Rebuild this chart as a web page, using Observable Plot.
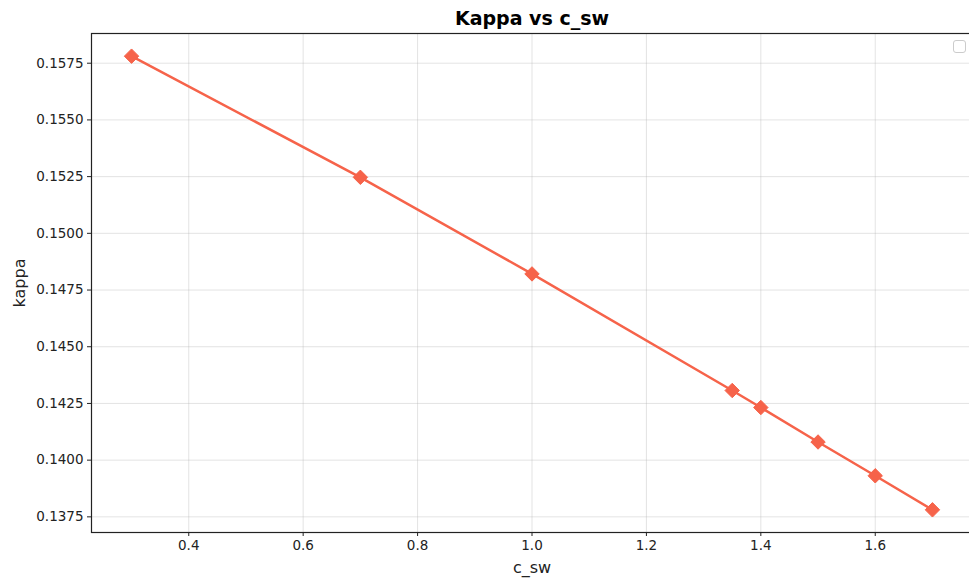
<!DOCTYPE html>
<html>
<head>
<meta charset="utf-8">
<script src="https://cdn.jsdelivr.net/npm/d3@7"></script>
<script src="https://cdn.jsdelivr.net/npm/@observablehq/plot@0.6"></script>
<style>
  html, body { margin: 0; padding: 0; background: #fff; }
  #wrap { position: relative; width: 969px; height: 578px; overflow: hidden; font-family: "DejaVu Sans", sans-serif; }
  #title { height: 28px; line-height: 36px; text-align: center; font-weight: bold; font-size: 19px; color: #000; padding-left: 95px; }
  #legend { position: absolute; left: 953px; top: 40px; width: 11px; height: 11px; border: 1px solid #ccc; border-radius: 3px; background: #fff; }
  #chart svg { max-width: none !important; display: block; }
</style>
</head>
<body>
<div id="wrap">
  <div id="title">Kappa vs c_sw</div>
  <div id="chart"></div>
  <div id="legend"></div>
</div>
<script>
const cSw = [0.3, 0.7, 1.0, 1.35, 1.4, 1.5, 1.6, 1.7];
const kappa = [0.15781, 0.15247, 0.14821, 0.14307, 0.14232, 0.14080, 0.13931, 0.13781];
const xTicks = [0.4, 0.6, 0.8, 1.0, 1.2, 1.4, 1.6];
const yTicks = [0.1375, 0.1400, 0.1425, 0.1450, 0.1475, 0.1500, 0.1525, 0.1550, 0.1575];

const data = cSw.map((x, i) => ({x, y: kappa[i]}));
const color = "#f6634a";

const chart = Plot.plot({
  width: 976,
  height: 550,
  marginLeft: 91,
  marginRight: 4,
  marginTop: 5,
  marginBottom: 46,
  style: {fontFamily: "DejaVu Sans, sans-serif", fontSize: "13px", color: "#222", background: "#fff", maxWidth: "none"},
  x: {domain: [0.23, 1.77]},
  y: {domain: [0.13681, 0.15881]},
  marks: [
    Plot.gridX(xTicks, {stroke: "#b0b0b0", strokeOpacity: 0.35, strokeWidth: 1}),
    Plot.gridY(yTicks, {stroke: "#b0b0b0", strokeOpacity: 0.35, strokeWidth: 1}),
    Plot.line(data, {x: "x", y: "y", stroke: color, strokeWidth: 2.5}),
    Plot.dot(data, {x: "x", y: "y", symbol: "diamond2", r: 6.5, fill: color, stroke: color, strokeWidth: 1}),
    Plot.frame({stroke: "#222", strokeWidth: 1.2}),
    Plot.axisX(xTicks, {tickSize: 4, tickPadding: 4, tickFormat: d => d.toFixed(1), fontSize: 13.5, fill: "#222",
      label: "c_sw", labelAnchor: "center", labelArrow: "none", labelOffset: 40}),
    Plot.axisY(yTicks, {tickSize: 4, tickPadding: 4, tickFormat: d => d.toFixed(4), fontSize: 13.5, fill: "#222",
      label: "kappa", labelAnchor: "center", labelArrow: "none", labelOffset: 78})
  ]
});
chart.querySelectorAll("[aria-label='x-axis label'] text, [aria-label='y-axis label'] text").forEach(t => t.style.fontSize = "16px");
document.getElementById("chart").appendChild(chart);
</script>
</body>
</html>
